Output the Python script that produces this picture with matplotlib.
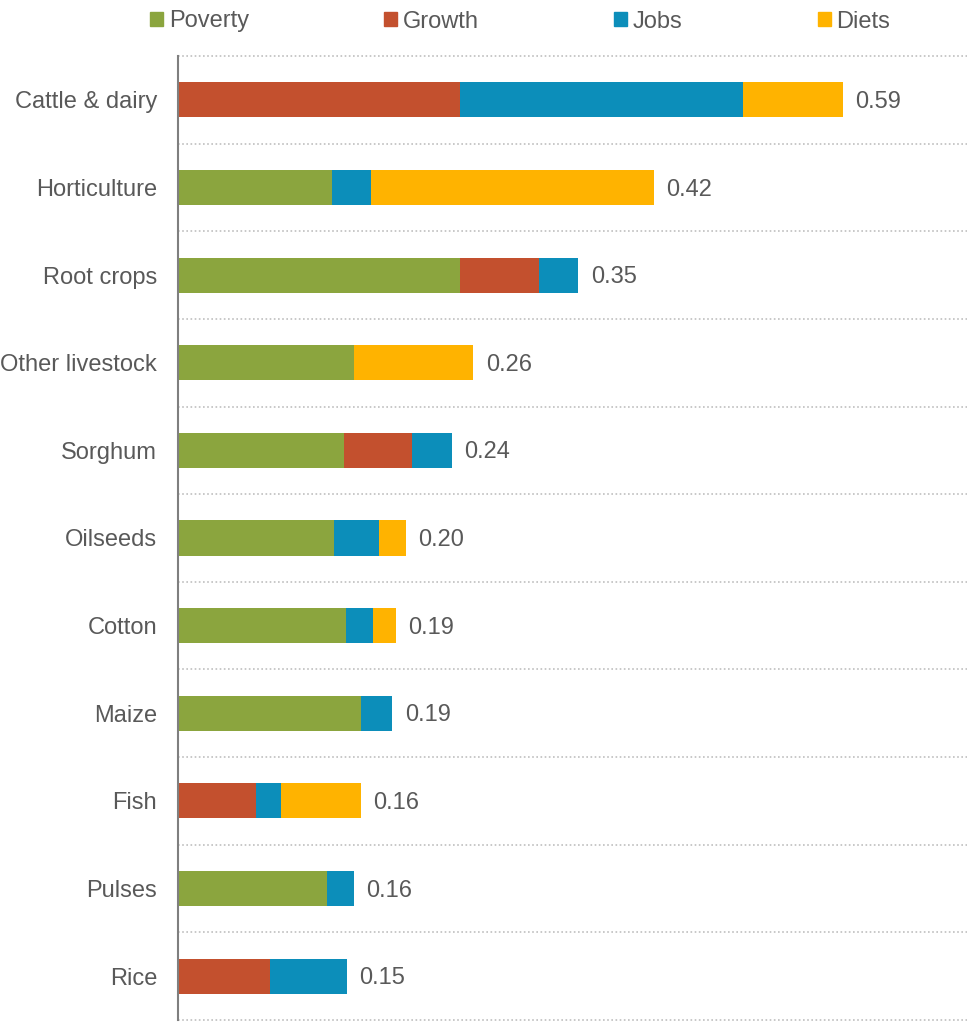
import numpy as np
import matplotlib.pyplot as plt
from matplotlib.patches import Patch

plt.rcParams['font.family'] = ['Liberation Sans', 'DejaVu Sans']

categories = ["Cattle & dairy", "Horticulture", "Root crops", "Other livestock", "Sorghum",
              "Oilseeds", "Cotton", "Maize", "Fish", "Pulses", "Rice"]
poverty = [0.000, 0.137, 0.250, 0.156, 0.147, 0.138, 0.149, 0.162, 0.000, 0.132, 0.000]
growth = [0.250, 0.000, 0.070, 0.000, 0.061, 0.000, 0.000, 0.000, 0.069, 0.000, 0.082]
jobs = [0.251, 0.034, 0.035, 0.000, 0.035, 0.040, 0.024, 0.028, 0.022, 0.024, 0.068]
diets = [0.089, 0.251, 0.000, 0.106, 0.000, 0.024, 0.020, 0.000, 0.071, 0.000, 0.000]
totals = ["0.59", "0.42", "0.35", "0.26", "0.24", "0.20", "0.19", "0.19", "0.16", "0.16", "0.15"]

series = [("Poverty", poverty, "#8BA53E"), ("Growth", growth, "#C3502E"),
          ("Jobs", jobs, "#0C8EBA"), ("Diets", diets, "#FFB300")]

textcol = "#595959"
fs = 17
fig = plt.figure(figsize=(9.67, 10.22), dpi=100)
ax = fig.add_axes([178/967, 2/1022, 1 - 178/967, 964/1022])

y = np.arange(len(categories))
left = np.zeros(len(categories))
for name, vals, col in series:
    vals = np.array(vals)
    ax.barh(y, vals, left=left, height=0.4, color=col, label=name)
    left += vals

for yi, end, lab in zip(y, left, totals):
    ax.annotate(lab, (end, yi), xytext=(9, -1.5), textcoords="offset points",
                va="center", ha="left", fontsize=fs, color=textcol)

# dotted separators between categories
ax.hlines(np.arange(len(categories) + 1) - 0.5, 0, 0.70, colors="#BFBFBF",
          linestyles=(0, (1, 1.5)), linewidth=1.2, clip_on=False)

ax.set_xlim(0, 0.70)
ax.set_ylim(len(categories) - 0.5, -0.5)
ax.set_yticks(y)
ax.set_yticklabels(categories, fontsize=fs, color=textcol)
ax.tick_params(axis="y", length=0, pad=15)
ax.xaxis.set_visible(False)
for s in ["top", "right", "bottom"]:
    ax.spines[s].set_visible(False)
ax.spines["left"].set_color("#7F7F7F")
ax.spines["left"].set_linewidth(1.5)

handles = [Patch(color=c, label=n) for n, _, c in series]
leg = fig.legend(handles=handles, loc="center left", bbox_to_anchor=(150/967, 1 - 21.5/1022),
                 ncol=4, frameon=False, fontsize=fs, handlelength=0.55, handleheight=0.55,
                 handletextpad=0.25, columnspacing=5.72, borderaxespad=0, borderpad=0)
for t in leg.get_texts():
    t.set_color(textcol)

fig.savefig("out.png", dpi=100)
